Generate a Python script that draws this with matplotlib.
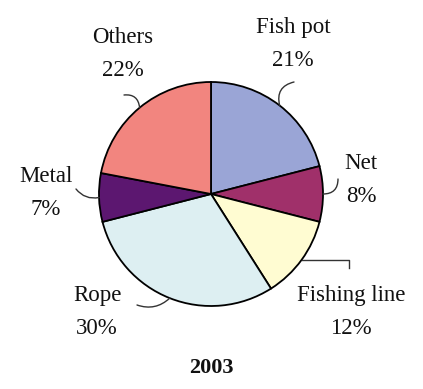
import numpy as np
import matplotlib
matplotlib.use("Agg")
import matplotlib.pyplot as plt

# === DATA ===
labels = ["Fish pot", "Net", "Fishing line", "Rope", "Metal", "Others"]
shares = [21, 8, 12, 30, 7, 22]
colors = ["#9aa5d6", "#a0306a", "#fffcd2", "#ddeff2", "#5c1770", "#f2857f"]
year = "2003"

# layout, in pixel coords (y down) of the 423x389 canvas
W, H = 423, 389
CX, CY, R = 211, 194, 112
label_pos = {
    "Fish pot": (293, 44),
    "Net": (361, 180),
    "Fishing line": (351, 312),
    "Rope": (97, 312),
    "Metal": (46, 193),
    "Others": (123, 54),
}
leader_end = {
    "Fish pot": (294, 82),
    "Net": (338, 179),
    "Rope": (137, 305),
    "Metal": (76, 189),
    "Others": (124, 95),
}
leader_rad = {"Fish pot": 0.5, "Net": -0.5, "Rope": 0.3, "Metal": 0.3, "Others": -0.5}

def px(x, y):
    return x, H - y

plt.rcParams['font.family'] = ['Liberation Serif', 'DejaVu Serif']

fig = plt.figure(figsize=(W / 100, H / 100), dpi=100)
ax = fig.add_axes([0, 0, 1, 1])

wedges, _ = ax.pie(shares, colors=colors, startangle=90, counterclock=False,
                   center=px(CX, CY), radius=R, frame=True,
                   wedgeprops=dict(edgecolor='black', linewidth=1.3))
ax.set_xlim(0, W)
ax.set_ylim(0, H)
ax.axis('off')

for w, name, val in zip(wedges, labels, shares):
    ax.text(*px(*label_pos[name]), f"{name}\n{val}%", ha='center', va='center',
            fontsize=16.5, linespacing=1.75, color='#111111')
    mid = np.deg2rad((w.theta1 + w.theta2) / 2)
    edge = (CX + R * np.cos(mid), H - CY + R * np.sin(mid))
    if name == "Fishing line":
        # elbow leader
        ax.plot([edge[0], 349, 349], [edge[1], edge[1], H - 268],
                color='#333333', lw=1)
    else:
        ax.annotate("", xy=edge, xytext=px(*leader_end[name]),
                    arrowprops=dict(arrowstyle='-', color='#333333', lw=1,
                                    shrinkA=0, shrinkB=0,
                                    connectionstyle=f"arc3,rad={leader_rad[name]}"))

ax.text(*px(211, 368), year, ha='center', va='center', fontsize=16,
        fontweight='bold', color='#111111')

fig.savefig("out.png", dpi=100)
